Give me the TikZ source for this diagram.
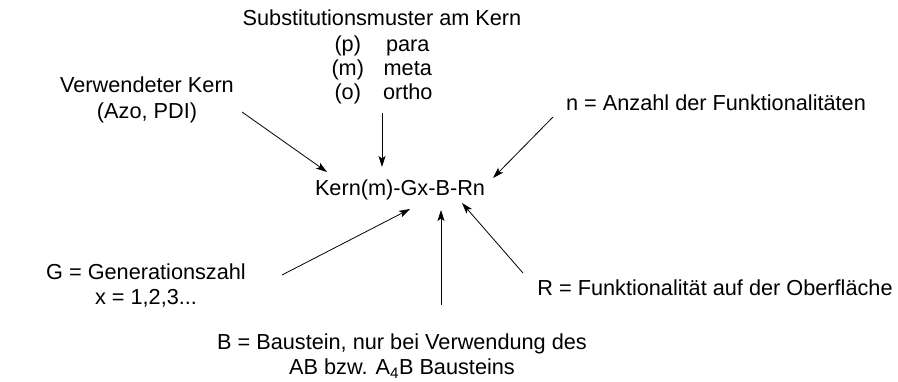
\documentclass[tikz,border=0pt]{standalone}
\usepackage{fontspec}
\setmainfont{Liberation Sans}
\usetikzlibrary{arrows.meta}
\begin{document}
\begin{tikzpicture}[x=1pt,y=-1pt,
  lbl/.style={inner sep=0pt,align=center,font=\fontsize{21.7}{25.5}\selectfont},
  arr/.style={line width=0.8pt,-{Stealth[length=11pt,width=7pt,inset=2.5pt]}}]
\useasboundingbox (0,0) rectangle (898,381);
% labels
\node[lbl] (title) at (382,18) {Substitutionsmuster am Kern};
\node[inner sep=0pt,font=\fontsize{21.7}{24}\selectfont] (subst) at (382,71)
  {\begin{tabular}{@{}c@{\hspace{19pt}}c@{}}(p)&para\\(m)&meta\\(o)&ortho\end{tabular}};
\node[lbl] (verw) at (147,100) {Verwendeter Kern\\(Azo, PDI)};
\node[lbl] (kern) at (400,190) {Kern(m)-Gx-B-Rn};
\node[lbl] (nfun) at (716,103) {n = Anzahl der Funktionalitäten};
\node[lbl] (gen) at (146,285.5) {G = Generationszahl\\x = 1,2,3...};
\node[lbl] (rfun) at (715,288) {R = Funktionalität auf der Oberfläche};
\node[lbl] (baus) at (402,356) {B = Baustein, nur bei Verwendung des\\AB bzw. A\textsubscript{4}B Bausteins};
% arrow ends
\coordinate (o1) at (382,113);  \coordinate (o2) at (382,167);
\coordinate (v1) at (242,112);  \coordinate (v2) at (327,172);
\coordinate (n1) at (553,117);  \coordinate (n2) at (493,178);
\coordinate (g1) at (282,275);  \coordinate (g2) at (410,209);
\coordinate (b1) at (441,305);  \coordinate (b2) at (441,210);
\coordinate (r1) at (523,273);  \coordinate (r2) at (462,203);
\draw[arr] (o1) -- (o2);
\draw[arr] (v1) -- (v2);
\draw[arr] (n1) -- (n2);
\draw[arr] (g1) -- (g2);
\draw[arr] (b1) -- (b2);
\draw[arr] (r1) -- (r2);
\end{tikzpicture}
\end{document}
